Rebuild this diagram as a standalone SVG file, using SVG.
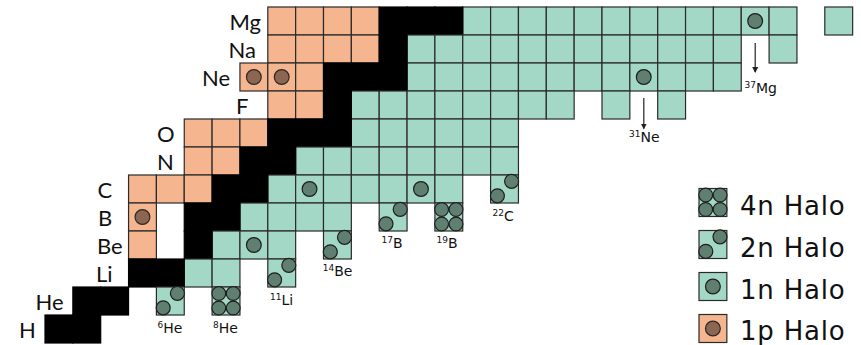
<svg xmlns="http://www.w3.org/2000/svg" xmlns:xlink="http://www.w3.org/1999/xlink" width="861" height="345" viewBox="0 0 861 345">
<style>
.g{fill:#A3D8C6;stroke:#2a2a2a;stroke-width:1.2}
.o{fill:#F5B58E;stroke:#2a2a2a;stroke-width:1.2}
.k{fill:#000;stroke:#000;stroke-width:1.2}
.hc{fill:#5F7F71;stroke:#1e1e1e;stroke-width:1.2}
.pc{fill:#8C6650;stroke:#2a2a2a;stroke-width:1.2}
.el{font-family:Lato,"Liberation Sans",sans-serif;font-size:22px;fill:#111}
.iso{font-family:"DejaVu Sans","Liberation Sans",sans-serif;font-size:14px;fill:#111}
.sup{font-size:9px}
.leg{font-family:"DejaVu Sans","Liberation Sans",sans-serif;font-size:26px;letter-spacing:0.8px;fill:#111}
.arr{stroke:#222;stroke-width:1.2;fill:none}
</style>
<defs>
<rect id="c" width="27.85" height="28"/>
<g id="h1"><circle cx="13.9" cy="14" r="7.4"/></g>
<g id="h2"><circle cx="21" cy="6.3" r="7"/><circle cx="6.8" cy="20.8" r="7"/></g>
<g id="h4"><circle cx="6.7" cy="6.5" r="6.9"/><circle cx="21.1" cy="6.5" r="6.9"/><circle cx="6.7" cy="21" r="6.9"/><circle cx="21.1" cy="21" r="6.9"/></g>
<marker id="ah" markerWidth="6" markerHeight="6" refX="5" refY="3" orient="auto" markerUnits="userSpaceOnUse"><path d="M0,0 L6,3 L0,6 z" fill="#222"/></marker>
</defs>
<rect width="861" height="345" fill="#fff"/>

<g id="row-Mg">
<text class="el" x="229.5" y="30">Mg</text>
<use href="#c" class="o" x="267.8" y="7"/><use href="#c" class="o" x="295.65" y="7"/><use href="#c" class="o" x="323.5" y="7"/><use href="#c" class="o" x="351.35" y="7"/>
<use href="#c" class="g" x="462.75" y="7"/><use href="#c" class="g" x="490.6" y="7"/><use href="#c" class="g" x="518.45" y="7"/><use href="#c" class="g" x="546.3" y="7"/><use href="#c" class="g" x="574.15" y="7"/><use href="#c" class="g" x="602" y="7"/><use href="#c" class="g" x="629.85" y="7"/><use href="#c" class="g" x="657.7" y="7"/><use href="#c" class="g" x="685.55" y="7"/><use href="#c" class="g" x="713.4" y="7"/><use href="#c" class="g" x="741.25" y="7"/><use href="#c" class="g" x="769.1" y="7"/><use href="#c" class="g" x="824.8" y="7"/>
<use href="#c" class="k" x="379.2" y="7"/><use href="#c" class="k" x="407.05" y="7"/><use href="#c" class="k" x="434.9" y="7"/>
</g>
<g id="row-Na">
<text class="el" x="228.5" y="58">Na</text>
<use href="#c" class="o" x="267.8" y="35"/><use href="#c" class="o" x="295.65" y="35"/><use href="#c" class="o" x="323.5" y="35"/><use href="#c" class="o" x="351.35" y="35"/>
<use href="#c" class="g" x="407.05" y="35"/><use href="#c" class="g" x="434.9" y="35"/><use href="#c" class="g" x="462.75" y="35"/><use href="#c" class="g" x="490.6" y="35"/><use href="#c" class="g" x="518.45" y="35"/><use href="#c" class="g" x="546.3" y="35"/><use href="#c" class="g" x="574.15" y="35"/><use href="#c" class="g" x="602" y="35"/><use href="#c" class="g" x="629.85" y="35"/><use href="#c" class="g" x="657.7" y="35"/><use href="#c" class="g" x="685.55" y="35"/><use href="#c" class="g" x="713.4" y="35"/><use href="#c" class="g" x="769.1" y="35"/>
<use href="#c" class="k" x="379.2" y="35"/>
</g>
<g id="row-Ne">
<text class="el" x="202" y="86">Ne</text>
<use href="#c" class="o" x="239.95" y="63"/><use href="#c" class="o" x="267.8" y="63"/><use href="#c" class="o" x="295.65" y="63"/>
<use href="#c" class="g" x="407.05" y="63"/><use href="#c" class="g" x="434.9" y="63"/><use href="#c" class="g" x="462.75" y="63"/><use href="#c" class="g" x="490.6" y="63"/><use href="#c" class="g" x="518.45" y="63"/><use href="#c" class="g" x="546.3" y="63"/><use href="#c" class="g" x="574.15" y="63"/><use href="#c" class="g" x="602" y="63"/><use href="#c" class="g" x="629.85" y="63"/><use href="#c" class="g" x="657.7" y="63"/><use href="#c" class="g" x="685.55" y="63"/><use href="#c" class="g" x="713.4" y="63"/>
<use href="#c" class="k" x="323.5" y="63"/><use href="#c" class="k" x="351.35" y="63"/><use href="#c" class="k" x="379.2" y="63"/>
<use href="#h1" class="pc" x="239.95" y="63"/><use href="#h1" class="pc" x="267.8" y="63"/>
</g>
<g id="row-F">
<text class="el" x="236" y="114">F</text>
<use href="#c" class="o" x="267.8" y="91"/><use href="#c" class="o" x="295.65" y="91"/>
<use href="#c" class="g" x="351.35" y="91"/><use href="#c" class="g" x="379.2" y="91"/><use href="#c" class="g" x="407.05" y="91"/><use href="#c" class="g" x="434.9" y="91"/><use href="#c" class="g" x="462.75" y="91"/><use href="#c" class="g" x="490.6" y="91"/><use href="#c" class="g" x="518.45" y="91"/><use href="#c" class="g" x="546.3" y="91"/><use href="#c" class="g" x="602" y="91"/><use href="#c" class="g" x="657.7" y="91"/>
<use href="#c" class="k" x="323.5" y="91"/>
</g>
<g id="row-O">
<text class="el" x="157" y="142">O</text>
<use href="#c" class="o" x="184.25" y="119"/><use href="#c" class="o" x="212.1" y="119"/><use href="#c" class="o" x="239.95" y="119"/>
<use href="#c" class="g" x="351.35" y="119"/><use href="#c" class="g" x="379.2" y="119"/><use href="#c" class="g" x="407.05" y="119"/><use href="#c" class="g" x="434.9" y="119"/><use href="#c" class="g" x="462.75" y="119"/><use href="#c" class="g" x="490.6" y="119"/>
<use href="#c" class="k" x="267.8" y="119"/><use href="#c" class="k" x="295.65" y="119"/><use href="#c" class="k" x="323.5" y="119"/>
</g>
<g id="row-N">
<text class="el" x="157" y="170">N</text>
<use href="#c" class="o" x="184.25" y="147"/><use href="#c" class="o" x="212.1" y="147"/>
<use href="#c" class="g" x="295.65" y="147"/><use href="#c" class="g" x="323.5" y="147"/><use href="#c" class="g" x="351.35" y="147"/><use href="#c" class="g" x="379.2" y="147"/><use href="#c" class="g" x="407.05" y="147"/><use href="#c" class="g" x="434.9" y="147"/><use href="#c" class="g" x="462.75" y="147"/><use href="#c" class="g" x="490.6" y="147"/>
<use href="#c" class="k" x="239.95" y="147"/><use href="#c" class="k" x="267.8" y="147"/>
</g>
<g id="row-C">
<text class="el" x="97.5" y="198">C</text>
<use href="#c" class="o" x="128.55" y="175"/><use href="#c" class="o" x="156.4" y="175"/><use href="#c" class="o" x="184.25" y="175"/>
<use href="#c" class="g" x="267.8" y="175"/><use href="#c" class="g" x="295.65" y="175"/><use href="#c" class="g" x="323.5" y="175"/><use href="#c" class="g" x="351.35" y="175"/><use href="#c" class="g" x="379.2" y="175"/><use href="#c" class="g" x="407.05" y="175"/><use href="#c" class="g" x="434.9" y="175"/>
<use href="#c" class="k" x="212.1" y="175"/><use href="#c" class="k" x="239.95" y="175"/>
<use href="#h1" class="hc" x="295.65" y="175"/><use href="#h1" class="hc" x="407.05" y="175"/>
</g>
<g id="row-B">
<text class="el" x="98" y="226">B</text>
<use href="#c" class="o" x="128.55" y="203"/>
<use href="#c" class="g" x="239.95" y="203"/><use href="#c" class="g" x="267.8" y="203"/><use href="#c" class="g" x="295.65" y="203"/><use href="#c" class="g" x="323.5" y="203"/>
<use href="#c" class="k" x="184.25" y="203"/><use href="#c" class="k" x="212.1" y="203"/>
<use href="#h1" class="pc" x="128.55" y="203"/>
</g>
<g id="row-Be">
<text class="el" x="97" y="254">Be</text>
<use href="#c" class="o" x="128.55" y="231"/>
<use href="#c" class="g" x="212.1" y="231"/><use href="#c" class="g" x="239.95" y="231"/><use href="#c" class="g" x="267.8" y="231"/>
<use href="#c" class="k" x="184.25" y="231"/>
<use href="#h1" class="hc" x="239.95" y="231"/>
</g>
<g id="row-Li">
<text class="el" x="96" y="282">Li</text>
<use href="#c" class="g" x="184.25" y="259"/><use href="#c" class="g" x="212.1" y="259"/>
<use href="#c" class="k" x="128.55" y="259"/><use href="#c" class="k" x="156.4" y="259"/>
</g>
<g id="row-He">
<text class="el" x="35.5" y="310">He</text>
<use href="#c" class="k" x="72.85" y="287"/><use href="#c" class="k" x="100.7" y="287"/>
</g>
<g id="row-H">
<text class="el" x="19" y="338">H</text>
<use href="#c" class="k" x="45" y="315"/><use href="#c" class="k" x="72.85" y="315"/>
</g>

<g id="He6"><use href="#c" class="g" x="156.4" y="287"/><use href="#h2" class="hc" x="156.4" y="287"/>
<text class="iso" x="157.5" y="333"><tspan class="sup" dy="-5">6</tspan><tspan dy="5">He</tspan></text></g>
<g id="He8"><use href="#c" class="g" x="212.1" y="287"/><use href="#h4" class="hc" x="212.1" y="287"/>
<text class="iso" x="213" y="333"><tspan class="sup" dy="-5">8</tspan><tspan dy="5">He</tspan></text></g>
<g id="Li11"><use href="#c" class="g" x="267.8" y="259"/><use href="#h2" class="hc" x="267.8" y="259"/>
<text class="iso" x="270" y="305"><tspan class="sup" dy="-5">11</tspan><tspan dy="5">Li</tspan></text></g>
<g id="Be14"><use href="#c" class="g" x="323.5" y="231"/><use href="#h2" class="hc" x="323.5" y="231"/>
<text class="iso" x="322.7" y="276"><tspan class="sup" dy="-5">14</tspan><tspan dy="5">Be</tspan></text></g>
<g id="B17"><use href="#c" class="g" x="379.2" y="203"/><use href="#h2" class="hc" x="379.2" y="203"/>
<text class="iso" x="381.5" y="248"><tspan class="sup" dy="-5">17</tspan><tspan dy="5">B</tspan></text></g>
<g id="B19"><use href="#c" class="g" x="434.9" y="203"/><use href="#h4" class="hc" x="434.9" y="203"/>
<text class="iso" x="436.5" y="248"><tspan class="sup" dy="-5">19</tspan><tspan dy="5">B</tspan></text></g>
<g id="C22"><use href="#c" class="g" x="490.6" y="175"/><use href="#h2" class="hc" x="490.6" y="175"/>
<text class="iso" x="492.5" y="221"><tspan class="sup" dy="-5">22</tspan><tspan dy="5">C</tspan></text></g>
<g id="Ne31"><use href="#h1" class="hc" x="629.85" y="63"/>
<text class="iso" x="629" y="142"><tspan class="sup" dy="-5">31</tspan><tspan dy="5">Ne</tspan></text></g>
<g id="Mg37"><use href="#h1" class="hc" x="741.25" y="7"/>
<text class="iso" x="744.5" y="93"><tspan class="sup" dy="-5">37</tspan><tspan dy="5">Mg</tspan></text></g>

<g id="connectors">
<line class="arr" x1="643.8" y1="98" x2="643.8" y2="128.5" marker-end="url(#ah)"/>
<line class="arr" x1="755.2" y1="43" x2="755.2" y2="72" marker-end="url(#ah)"/>
</g>

<g id="legend">
<g id="leg-4n"><use href="#c" class="g" x="699" y="188.5"/><use href="#h4" class="hc" x="699" y="188.5"/><text class="leg" x="740" y="214.5">4n Halo</text></g>
<g id="leg-2n"><use href="#c" class="g" x="699" y="230.5"/><use href="#h2" class="hc" x="699" y="230.5"/><text class="leg" x="740" y="256.5">2n Halo</text></g>
<g id="leg-1n"><use href="#c" class="g" x="699" y="272.5"/><use href="#h1" class="hc" x="699" y="272.5"/><text class="leg" x="740" y="298.5">1n Halo</text></g>
<g id="leg-1p"><use href="#c" class="o" x="699" y="314.5"/><use href="#h1" class="pc" x="699" y="314.5"/><text class="leg" x="740" y="340">1p Halo</text></g>
</g>
</svg>
